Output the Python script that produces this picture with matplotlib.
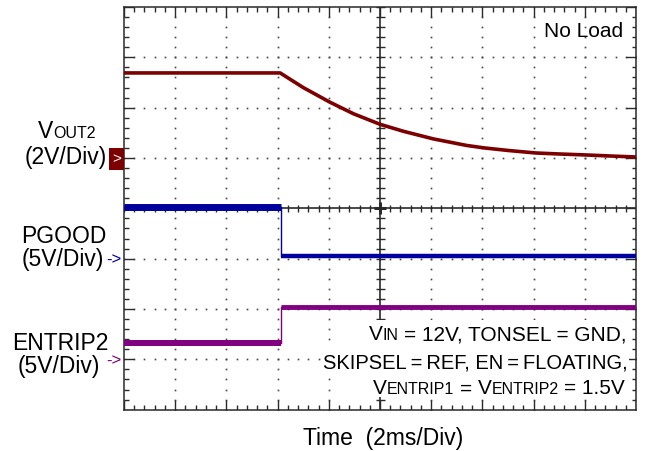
import matplotlib
matplotlib.use("Agg")
import matplotlib.pyplot as plt
import numpy as np
from matplotlib.patches import Rectangle

# ---------------- data ----------------
# time in ms (2 ms/div, 10 div), voltages in V
vout_t = [0, 6.1, 7.0, 8.04, 8.96, 10.0, 10.92, 12.08, 13.38, 14.08, 15.0, 16.08, 17.0, 18.08, 19.0, 20.0]
vout_v = [3.38, 3.38, 2.80, 2.22, 1.76, 1.34, 1.06, 0.76, 0.50, 0.40, 0.30, 0.20, 0.16, 0.12, 0.08, 0.04]
step_t = 6.12            # ms, PGOOD falls / ENTRIP2 rises
pgood_levels = [5.1, 0.25]    # V before / after
entrip_levels = [1.6, 5.2]    # V before / after

# channel settings: (ground position in div, volts per div)
ch_vout = (5.0, 2.0)
ch_pgood = (3.0, 5.0)
ch_entrip = (1.0, 5.0)

VOUT_C = "#7d0000"
PG_C = "#00009e"
EN_C = "#800080"
FRAME_C = "#2a2a2a"
FONT = ["Liberation Sans", "DejaVu Sans"]

W, H = 645, 452
fig = plt.figure(figsize=(W / 100, H / 100), dpi=100)
L, R, T, B = 124, 636, 8, 410.7
ax = fig.add_axes([L / W, 1 - B / H, (R - L) / W, (B - T) / H])
XMAX, YMAX = 20.0, 8.0
ax.set_xlim(0, XMAX)
ax.set_ylim(0, YMAX)
ax.set_xticks([])
ax.set_yticks([])

pxx = XMAX / (R - L)      # data units (ms) per pixel
pxy = YMAX / (B - T)      # data units (div) per pixel

def to_div(v, ch):
    return ch[0] + np.asarray(v, dtype=float) / ch[1]

# frame
for s in ax.spines.values():
    s.set_color(FRAME_C)
    s.set_linewidth(1.1)
    s.set_zorder(2)

minor_x = np.arange(0, XMAX + 0.01, 0.4)
minor_y = np.arange(0, YMAX + 0.01, 0.2)

TW = 1.0
MIN_L, MAJ_L = 4.5, 10
# ticks on the border (inward)
for xv in minor_x:
    ln = MAJ_L if np.isclose(xv % 2, 0) or np.isclose(xv % 2, 2) else MIN_L
    ax.vlines(xv, YMAX - ln * pxy, YMAX, color=FRAME_C, lw=TW, zorder=2)
    ax.vlines(xv, 0, ln * pxy, color=FRAME_C, lw=TW, zorder=2)
for yv in minor_y:
    ln = MAJ_L if np.isclose(yv % 1, 0) or np.isclose(yv % 1, 1) else MIN_L
    ax.hlines(yv, 0, ln * pxx, color=FRAME_C, lw=TW, zorder=2)
    ax.hlines(yv, XMAX - ln * pxx, XMAX, color=FRAME_C, lw=TW, zorder=2)

# dotted grid
for gx in [2, 4, 6, 8, 12, 14, 16, 18]:
    ax.plot([gx] * len(minor_y), minor_y, ls="none", marker="s", ms=1.2,
            mew=0, color="#444444", zorder=1)
for gy in [1, 2, 3, 5, 6, 7]:
    ax.plot(minor_x, [gy] * len(minor_x), ls="none", marker="s", ms=1.2,
            mew=0, color="#444444", zorder=1)

# center cross with ticks
ax.axhline(YMAX / 2, color=FRAME_C, lw=1.2, zorder=1.5)
ax.axvline(XMAX / 2, color=FRAME_C, lw=1.2, zorder=1.5)
ax.vlines(minor_x, YMAX / 2 - 3.5 * pxy, YMAX / 2 + 3.5 * pxy, color=FRAME_C, lw=TW, zorder=1.5)
ax.hlines(minor_y, XMAX / 2 - 4.5 * pxx, XMAX / 2 + 4.5 * pxx, color=FRAME_C, lw=TW, zorder=1.5)
ax.vlines(XMAX / 2, YMAX / 2 - 6 * pxy, YMAX / 2 + 6 * pxy, color=FRAME_C, lw=2.2, zorder=1.5)
ax.hlines(YMAX / 2, XMAX / 2 - 6 * pxx, XMAX / 2 + 6 * pxx, color=FRAME_C, lw=2.2, zorder=1.5)

# traces
ax.plot(vout_t, to_div(vout_v, ch_vout), color=VOUT_C, lw=2.6, zorder=3,
        solid_capstyle="butt", solid_joinstyle="round")

pg = to_div(pgood_levels, ch_pgood)
ax.plot([0, step_t], [pg[0], pg[0]], color=PG_C, lw=5.0, zorder=3, solid_capstyle="butt")
ax.plot([step_t, step_t], [pg[0], pg[1]], color=PG_C, lw=1.0, zorder=3)
ax.plot([step_t, XMAX], [pg[1], pg[1]], color=PG_C, lw=3.2, zorder=3, solid_capstyle="butt")

en = to_div(entrip_levels, ch_entrip)
ax.plot([0, step_t], [en[0], en[0]], color=EN_C, lw=4.3, zorder=3, solid_capstyle="butt")
ax.plot([step_t, step_t], [en[0], en[1]], color=EN_C, lw=1.0, zorder=3)
ax.plot([step_t, XMAX], [en[1], en[1]], color=EN_C, lw=3.5, zorder=3, solid_capstyle="butt")

# ground markers
ax.add_patch(Rectangle((-15 * pxx, ch_vout[0] - 12 * pxy), 15 * pxx, 22 * pxy,
                       facecolor=VOUT_C, edgecolor="none", clip_on=False, zorder=4))
ax.text(-7.5 * pxx, ch_vout[0], ">", color="white", fontsize=11,
        ha="center", va="center", family=FONT, clip_on=False, zorder=5)
for ch, c in [(ch_pgood, PG_C), (ch_entrip, EN_C)]:
    ax.text(-2.5 * pxx, ch[0], "->", color=c, fontsize=12, ha="right", va="center",
            family=FONT, clip_on=False, zorder=5)

# ---------------- text helpers ----------------
renderer = fig.canvas.get_renderer()

def width_px(s, fs):
    t = fig.text(0, 0, s, fontsize=fs, family=FONT)
    w = t.get_window_extent(renderer).width
    t.remove()
    return w

def rich(parts, x, y, ha="left", bg=None):
    """parts: list of (text, fontsize, gap_before_px); y is baseline in px from top.
    bg: optional (top_px, bottom_px) of a white box behind the line."""
    widths = [width_px(s, fs) for s, fs, g in parts]
    total = sum(widths) + sum(g for _, _, g in parts)
    if ha == "right":
        x0 = x - total
    elif ha == "center":
        x0 = x - total / 2
    else:
        x0 = x
    if bg is not None:
        top, bot = bg
        fig.add_artist(Rectangle(((x0 - 2) / W, 1 - bot / H), (total + 3) / W,
                                 (bot - top) / H, transform=fig.transFigure,
                                 facecolor="white", edgecolor="none", zorder=2))
    cx = x0
    for (s, fs, g), w in zip(parts, widths):
        cx += g
        fig.text(cx / W, 1 - y / H, s, fontsize=fs, family=FONT, ha="left",
                 va="baseline", color="black", zorder=3)
        cx += w

def plain(s, x, y, fs, ha="center"):
    fig.text(x / W, 1 - y / H, s, fontsize=fs, family=FONT, ha=ha,
             va="baseline", color="black")

# left labels
LF = 16.5
rich([("V", LF, 0), ("OUT2", 11.5, 0)], 66.5, 138, ha="center")
plain("(2V/Div)", 65.5, 164, LF)
plain("PGOOD", 63.5, 243, LF)
plain("(5V/Div)", 63, 266, LF)
plain("ENTRIP2", 60, 350, LF)
plain("(5V/Div)", 59, 373, LF)

# top-right and bottom text
plain("No Load", 623, 37, 15, ha="right")
plain("Time  (2ms/Div)", 383, 445, 16.5)

# conditions block (white background behind each line)
AF, SF = 15, 11.5
SP = width_px("x x", AF) - width_px("xx", AF)
rich([("V", AF, 0), ("IN", SF, 0), ("= 12V, TONSEL = GND,", AF, SP)], 627, 340.5,
     ha="right", bg=(320.5, 346.5))
rich([("SKIPSEL\u2009=\u2009REF, EN\u2009=\u2009FLOATING,", 14.5, 0)], 628, 368.3,
     ha="right", bg=(346, 373))
rich([("V", AF, 0), ("ENTRIP1", SF, 0), ("=", AF, SP), ("V", AF, SP), ("ENTRIP2", SF, 0),
      ("= 1.5V", AF, SP)], 625, 394.3, ha="right", bg=(372.5, 398))

fig.savefig("out.png", dpi=100)
